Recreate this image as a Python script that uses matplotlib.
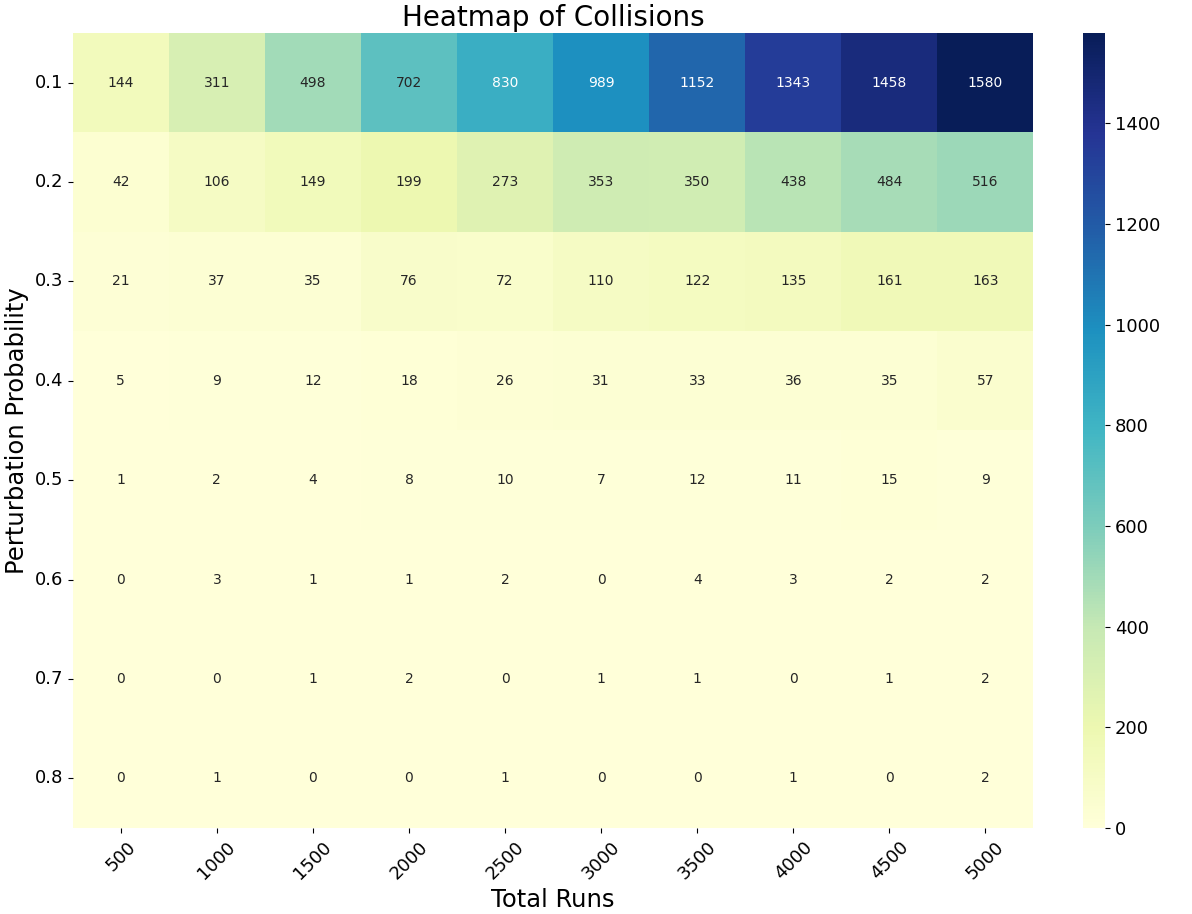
import numpy as np
import pandas as pd
import matplotlib
matplotlib.use('Agg')
import matplotlib.pyplot as plt
import seaborn as sns

# 数据
total_runs = [500, 1000, 1500, 2000, 2500, 3000, 3500, 4000, 4500, 5000]
probs = ['0.1', '0.2', '0.3', '0.4', '0.5', '0.6', '0.7', '0.8']

p01 = [144, 311, 498, 702, 830, 989, 1152, 1343, 1458, 1580]
p02 = [42, 106, 149, 199, 273, 353, 350, 438, 484, 516]
p03 = [21, 37, 35, 76, 72, 110, 122, 135, 161, 163]
p04 = [5, 9, 12, 18, 26, 31, 33, 36, 35, 57]
p05 = [1, 2, 4, 8, 10, 7, 12, 11, 15, 9]
p06 = [0, 3, 1, 1, 2, 0, 4, 3, 2, 2]
p07 = [0, 0, 1, 2, 0, 1, 1, 0, 1, 2]
p08 = [0, 1, 0, 0, 1, 0, 0, 1, 0, 2]

df = pd.DataFrame([p01, p02, p03, p04, p05, p06, p07, p08],
                  index=probs, columns=total_runs)

fig = plt.figure(figsize=(11.92, 9.14), dpi=100)
ax = fig.add_axes([0.061, 0.094, 0.806, 0.870])
cax = fig.add_axes([0.9086, 0.094, 0.0185, 0.870])

sns.heatmap(df, annot=True, fmt='d', cmap='YlGnBu', ax=ax, cbar_ax=cax,
            annot_kws={'fontsize': 10})

ax.set_title('Heatmap of Collisions', fontsize=20, pad=5)
ax.set_xlabel('Total Runs', fontsize=17.5)
ax.set_ylabel('Perturbation Probability', fontsize=17.5)
ax.tick_params(axis='x', labelsize=13, rotation=45)
ax.tick_params(axis='y', labelsize=13, rotation=0)
cax.tick_params(labelsize=13)

plt.savefig('out.png', dpi=100)
plt.close()
